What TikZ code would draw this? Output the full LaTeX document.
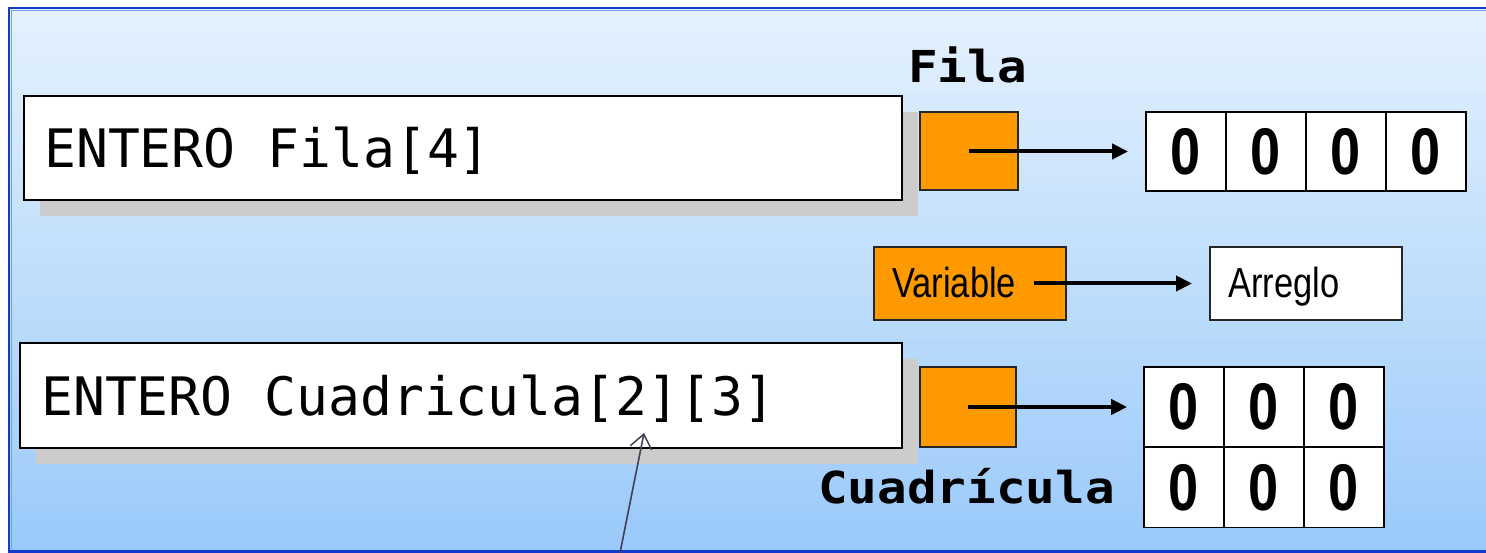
\documentclass[tikz,border=0pt]{standalone}
\usepackage{fontspec}
\usetikzlibrary{arrows.meta}
\newfontfamily\monof{DejaVu Sans Mono}
\newfontfamily\lblf[FakeStretch=1.12]{DejaVu Sans Mono}
\newfontfamily\narrowf[FakeStretch=0.82]{Liberation Sans}
\definecolor{bgtop}{RGB}{228,241,253}
\definecolor{bgbot}{RGB}{154,202,250}
\definecolor{bordercol}{RGB}{18,58,205}
\definecolor{borderlt}{RGB}{120,160,240}
\definecolor{orng}{RGB}{255,153,0}
\definecolor{shade}{RGB}{204,204,204}
\definecolor{pointer}{RGB}{64,64,86}
\tikzset{
  declbox/.style={draw=black, fill=white, line width=2pt, inner sep=0pt},
  declshadow/.style={fill=shade},
  orangebox/.style={draw=black!85, fill=orng, line width=2pt, inner sep=0pt},
  labelbox/.style={draw=black!85, line width=2pt, inner sep=0pt, minimum width=192pt, minimum height=73pt},
  cell/.style={draw=black, fill=white, line width=1.8pt, inner sep=0pt, minimum width=80pt, minimum height=80pt,
    font=\narrowf\bfseries\fontsize{66}{70}\selectfont},
  code/.style={inner sep=0pt, anchor=base west, font=\monof\fontsize{53}{60}\selectfont},
  varlabel/.style={inner sep=0pt, anchor=base west, font=\lblf\bfseries\fontsize{44}{50}\selectfont},
  smalltext/.style={inner sep=0pt, anchor=base west, font=\narrowf\fontsize{42}{48}\selectfont},
  ptr/.style={-{Triangle[length=16pt,width=15pt]}, line width=4pt, black},
  note/.style={-{Straight Barb[length=14pt,width=22pt,line width=1.5pt]}, line width=1.6pt, pointer}
}
\begin{document}
\begin{tikzpicture}[x=1pt,y=-1pt]
\useasboundingbox (0,0) rectangle (1486,553);
% panel: vertical gradient in strips (runs past the right edge of the page)
\foreach \i in {0,...,63} {
  \pgfmathtruncatemacro\p{round(100*\i/63)}
  \fill[bgbot!\p!bgtop] (9,{8+\i*8.5}) rectangle (1510,{8+\i*8.5+9.1});
}
\draw[borderlt, line width=1pt] (1510,10.5) -- (11.5,10.5) -- (11.5,549);
\draw[bordercol, line width=2.5pt] (1510,8) -- (9,8) -- (9,551.5) -- (1510,551.5);
% declaration 1
\fill[declshadow] (40,112) rectangle (918,216);
\node[declbox, minimum width=878pt, minimum height=104pt] (b1) at (463,148) {};
\node[code] (t1) at (44,168) {ENTERO Fila[4]};
% declaration 2
\fill[declshadow] (36,359) rectangle (918,464);
\node[declbox, minimum width=882pt, minimum height=105pt] (b2) at (461,395.5) {};
\node[code] (t2) at (41,415) {ENTERO Cuadricula[2][3]};
% Fila
\node[varlabel] (lf) at (908,83) {Fila};
\node[orangebox, minimum width=98pt, minimum height=78pt] (o1) at (969,151.5) {};
\node[cell, minimum height=79pt] (c1) at (1186,151.5) {0};
\node[cell, minimum height=79pt] (c2) at (1266,151.5) {0};
\node[cell, minimum height=79pt] (c3) at (1346,151.5) {0};
\node[cell, minimum height=79pt] (c4) at (1426,151.5) {0};
\draw[ptr, shorten >=17pt] (o1.center) -- (c1.west);
% legend
\node[labelbox, fill=orng] (vb) at (970,283.5) {};
\node[smalltext] (vt) at (892,298) {Variable};
\node[labelbox, fill=white] (ab) at (1306,283.5) {};
\node[smalltext] (at) at (1228,298) {Arreglo};
\coordinate (vs) at (1034,283.5);
\draw[ptr, shorten >=17pt] (vs) -- (ab.west);
% Cuadricula
\node[orangebox, minimum width=96pt, minimum height=80pt] (o2) at (968,407) {};
\node[cell] (g11) at (1184,407) {0};
\node[cell] (g12) at (1264,407) {0};
\node[cell] (g13) at (1344,407) {0};
\node[cell] (g21) at (1184,487.5) {0};
\node[cell] (g22) at (1264,487.5) {0};
\node[cell] (g23) at (1344,487.5) {0};
\draw[ptr, shorten >=16pt] (o2.center) -- (g11.west);
\node[varlabel] (lc) at (818,503) {Cuadrícula};
% note pointer
\coordinate (ntail) at (620,553);
\coordinate (ntip) at (644,433);
\draw[note] (ntail) -- (ntip);
\end{tikzpicture}
\end{document}
